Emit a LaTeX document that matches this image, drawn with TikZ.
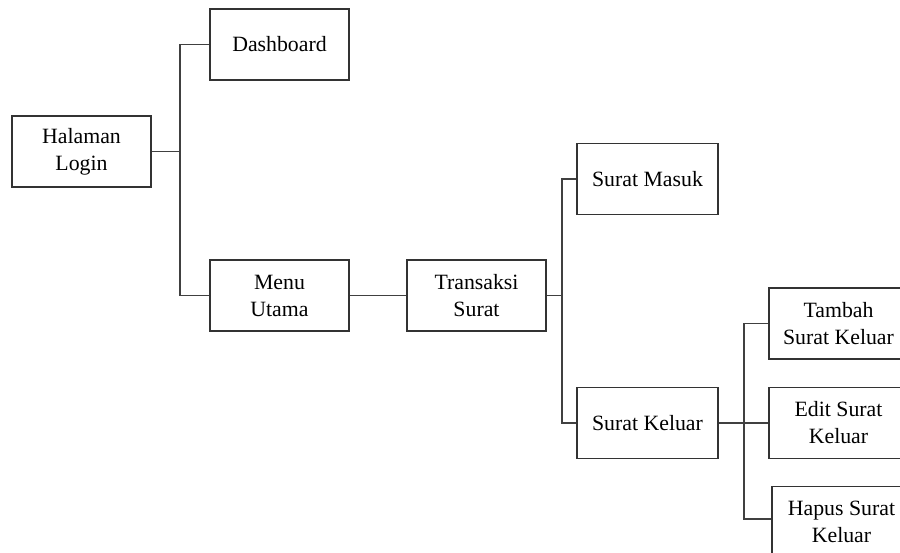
\documentclass[tikz,border=0pt]{standalone}
\usepackage{fontspec}
\setmainfont{Liberation Serif}
\begin{document}
\begin{tikzpicture}[x=1pt,y=-1pt,
  menubox/.style={draw=black!80, line width=1.4pt, fill=white, minimum width=139pt,
    minimum height=71pt, inner sep=0pt, align=center, text=black,
    font=\fontsize{21.8}{27}\selectfont},
  link/.style={draw=black!75, line width=1.5pt}]
\useasboundingbox (0,0) rectangle (900,553);
\clip (0,0) rectangle (900,553);
\fill[white] (0,0) rectangle (900,553);

% boxes
\node[menubox] (login) at (81.5,151.5) {Halaman\\Login};
\node[menubox] (dash)  at (279.5,44.5) {Dashboard};
\node[menubox] (menu)  at (279.5,295.5) {Menu\\Utama};
\node[menubox] (trans) at (476.5,295.5) {Transaksi\\Surat};
\node[menubox, minimum width=141pt] (masuk)  at (647.5,179) {Surat Masuk};
\node[menubox, minimum width=141pt] (keluar) at (647.5,423) {Surat Keluar};
\node[menubox] (tambah) at (838.5,323.5) {Tambah\\Surat Keluar};
\node[menubox] (edit)   at (838.5,423) {Edit Surat\\Keluar};
\node[menubox] (hapus)  at (841.5,522) {Hapus Surat\\Keluar};

% trunk positions
\coordinate (t1) at (180,0);
\coordinate (t2) at (562,0);
\coordinate (t3) at (744,0);

% level 1
\draw[link] (login.east) -- (login.east -| t1);
\draw[link] (dash.west) -- (dash.west -| t1) -- (menu.west -| t1) -- (menu.west);

% level 2
\draw[link] (menu.east) -- (trans.west);

% level 3
\draw[link] (trans.east) -- (trans.east -| t2);
\draw[link] (masuk.west) -- (masuk.west -| t2) -- (keluar.west -| t2) -- (keluar.west);

% level 4
\draw[link] (keluar.east) -- (keluar.east -| t3);
\draw[link] (tambah.west) -- (tambah.west -| t3) -- ([yshift=3pt]hapus.west -| t3) -- ([yshift=3pt]hapus.west);
\draw[link] (edit.west) -- (edit.west -| t3);
\end{tikzpicture}
\end{document}
